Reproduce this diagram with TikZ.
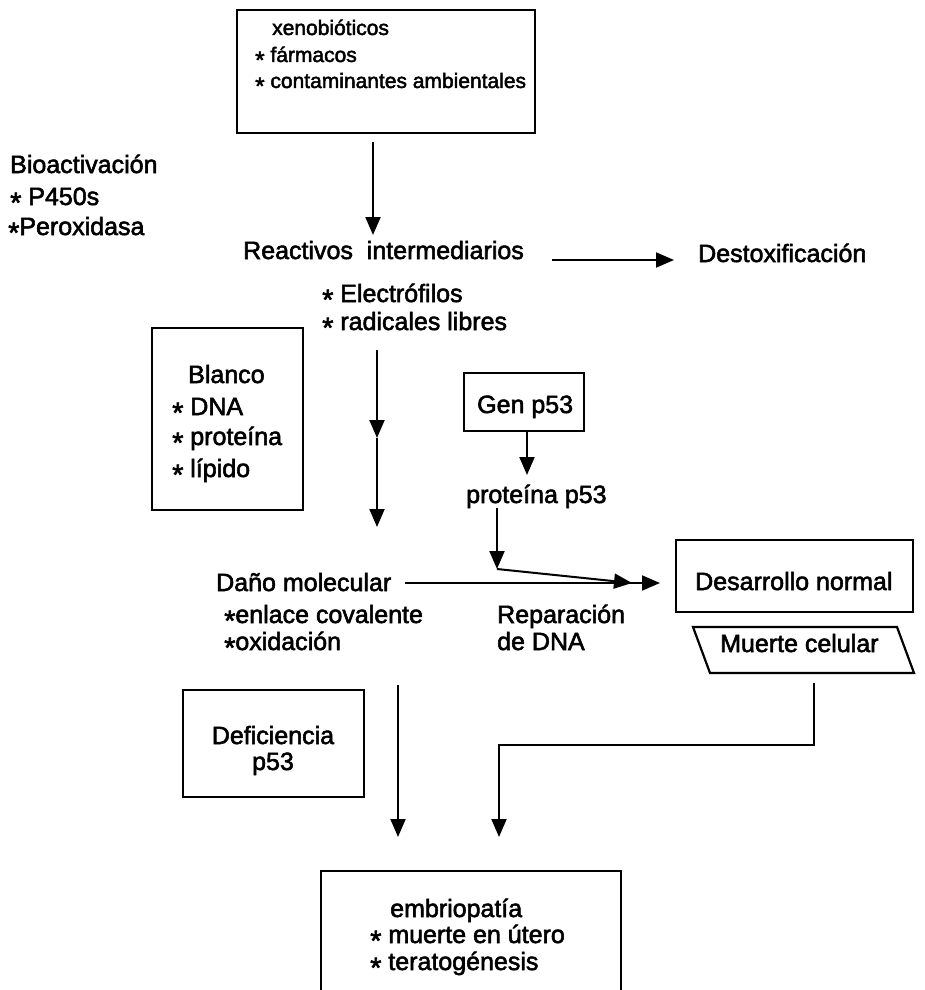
\documentclass[tikz,border=0pt]{standalone}
\usepackage{fontspec}
\setmainfont{Liberation Sans}[BoldFont=Liberation Sans, BoldFeatures={FakeBold=2.2}]
\usetikzlibrary{arrows.meta}
\newcommand\bul{\smash{\raisebox{-0.3em}{\scalebox{1.15}{*}}}}
\begin{document}
\begin{tikzpicture}[x=1pt,y=-1pt,
  box/.style={draw, line width=2.2pt, inner sep=0pt},
  txt/.style={anchor=base west, inner sep=0pt, font=\fontsize{25}{29}\selectfont\bfseries},
  stxt/.style={txt, font=\fontsize{21}{25}\selectfont\bfseries},
  arr/.style={line width=2pt, -{Triangle[width=15pt,length=18pt]}},
  ln/.style={line width=2pt}]
\useasboundingbox (0,0) rectangle (925,990);

% top box
\node[box, minimum width=298pt, minimum height=123pt] (b1) at (386,71.5) {};
\node[stxt] (xeno) at (272,35) {xenobióticos};
\node[stxt] (farm) at (255,62) {\bul\ fármacos};
\node[stxt] (cont) at (255,88) {\bul\ contaminantes ambientales};

% bioactivacion
\node[txt] (bio) at (10,173) {Bioactivación};
\node[txt] (p450) at (10,205) {\bul\ P450s};
\node[txt] (perox) at (8,235) {\bul Peroxidasa};

% reactivos
\node[txt] (reac) at (243,259) {Reactivos\ \ intermediarios};
\node[txt] (elec) at (322,302) {\bul\ Electrófilos};
\node[txt] (radi) at (322,330) {\bul\ radicales libres};
\node[txt] (destox) at (698,262) {Destoxificación};

\coordinate (a1s) at (373,142);
\coordinate (a1e) at (373,235);
\draw[arr] (a1s) -- (a1e);
\coordinate (dxs) at (552,260);
\coordinate (dxe) at (674,260);
\draw[arr] (dxs) -- (dxe);

% blanco box
\node[box, minimum width=151pt, minimum height=182pt] (blanco) at (227.5,419) {};
\node[txt] (bl1) at (188,383) {Blanco};
\node[txt] (bl2) at (172,415) {\bul\ DNA};
\node[txt] (bl3) at (172,445) {\bul\ proteína};
\node[txt] (bl4) at (172,477) {\bul\ lípido};

\coordinate (r1) at (377,350);
\coordinate (r2) at (377,438);
\coordinate (r3) at (377,527);
\draw[arr] (r1) -- (r2);
\draw[arr] (r2) -- (r3);

% gen p53
\node[box, minimum width=120pt, minimum height=58pt] (gen) at (524,402) {};
\node[txt] (gentxt) at (477,413) {Gen p53};
\node[txt] (prot) at (466,503) {proteína p53};
\coordinate (g1) at (527,431);
\coordinate (g2) at (527,475);
\draw[arr] (g1) -- (g2);
\coordinate (p1) at (497,508);
\coordinate (p2) at (497,569);
\coordinate (p3) at (632,583);
\draw[arr] (p1) -- (p2);
\draw[arr] (p2) -- (p3);

% dano molecular
\node[txt] (dano) at (216,591) {Daño molecular};
\node[txt] (enl) at (224,623) {\bul enlace covalente};
\node[txt] (oxi) at (224,650) {\bul oxidación};
\node[txt] (rep1) at (497,623) {Reparación};
\node[txt] (rep2) at (497,650) {de DNA};
\coordinate (d1) at (405,583);
\coordinate (d2) at (660,583);
\draw[arr] (d1) -- (d2);

% desarrollo normal
\node[box, minimum width=237pt, minimum height=72pt] (des) at (794.5,576) {};
\node[txt] (destxt) at (695,590) {Desarrollo normal};

% muerte celular
\draw[line width=2.2pt] (693,627) -- (897,627) -- (914,673) -- (710,673) -- cycle;
\node[txt] (muer) at (720,652) {Muerte celular};
\coordinate (m1) at (814,683);
\coordinate (m2) at (814,745);
\coordinate (m3) at (499,745);
\coordinate (m4) at (499,837);
\draw[arr] (m1) -- (m2) -- (m3) -- (m4);

% deficiencia
\node[box, minimum width=181pt, minimum height=107pt] (def) at (273.5,743.5) {};
\node[txt, anchor=base] (def1) at (273,744) {Deficiencia};
\node[txt, anchor=base] (def2) at (273,770) {p53};

\coordinate (v1) at (398,685);
\coordinate (v2) at (398,837);
\draw[arr] (v1) -- (v2);

% embriopatia
\begin{scope}
\clip (0,0) rectangle (925,990);
\node[box, minimum width=300pt, minimum height=130pt] (emb) at (471,936) {};
\end{scope}
\node[txt] (emb1) at (390,917) {embriopatía};
\node[txt] (emb2) at (370,943) {\bul\ muerte en útero};
\node[txt] (emb3) at (370,970) {\bul\ teratogénesis};
\end{tikzpicture}
\end{document}
